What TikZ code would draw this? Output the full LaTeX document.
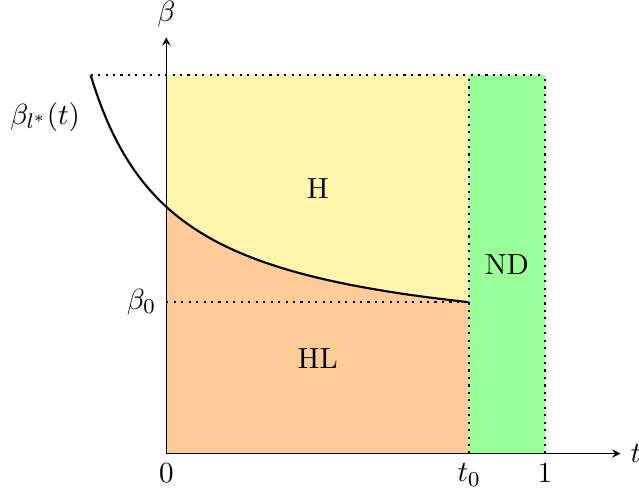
\documentclass[tikz,border=0pt,11pt]{standalone}
\usepackage{amsmath}

\definecolor{hfill}{RGB}{255,246,174}
\definecolor{hlfill}{RGB}{255,203,153}
\definecolor{ndfill}{RGB}{153,255,153}

\begin{document}
\begin{tikzpicture}[x=5cm, y=5cm, >=stealth,
    bound/.style={thick, dotted},
    curve/.style={thick, black}]
    \useasboundingbox (-0.4395,-0.1097) rectangle (1.249,1.1985);

    % --- REGIONS ---
    \fill[hfill] (0,0) rectangle (0.8,1);
    \fill[hlfill] (0,0) -- plot[domain=0:0.8, samples=60] (\x,{0.2674+0.1619/(\x+0.421)}) -- (0.8,0) -- cycle;
    \fill[ndfill] (0.8,0) rectangle (1,1);

    % Dotted bounds
    \draw[bound] (-0.2,1) -- (1,1);
    \draw[bound] (0,0.4) -- (0.8,0.4);
    \draw[bound] (0.8,0) -- (0.8,1);
    \draw[bound] (1,0) -- (1,1);

    % The boundary curve
    \draw[curve] plot[domain=-0.2:0.8, samples=100] (\x,{0.2674+0.1619/(\x+0.421)});

    % --- AXES ---
    \draw[->] (0,0) -- (1.2,0) node[right] (tlab) {$t$};
    \draw[->] (0,0) -- (0,1.1) node[above] (blab) {$\beta$};

    \node[below] (zero) at (0,0) {$0$};
    \node[below] (tzero) at (0.8,0) {$t_0$};
    \node[below] (one) at (1,0) {$1$};
    \node[left] (bzero) at (0,0.4) {$\beta_0$};
    \node (blstar) at (-0.32,0.89) {$\beta_{l^*}(t)$};

    % Region labels
    \node (H) at (0.4,0.7) {H};
    \node (HL) at (0.4,0.25) {HL};
    \node (ND) at (0.9,0.5) {ND};
\end{tikzpicture}
\end{document}
